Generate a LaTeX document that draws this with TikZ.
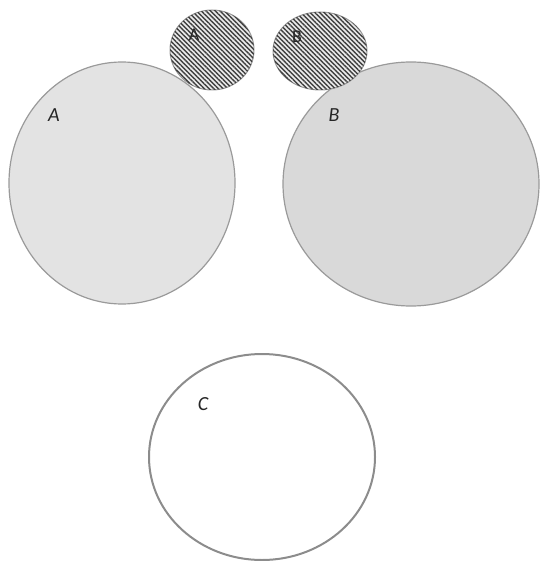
\documentclass[tikz,border=0pt]{standalone}
\usepackage{fontspec}
\setmainfont{Carlito}
\usepackage{xcolor}
\usepackage{tikz}
\usetikzlibrary{shapes.geometric, patterns.meta, positioning}

\definecolor{rimgray}{HTML}{9A9A9A}
\definecolor{stripegray}{HTML}{404040}

\tikzset{
    bigset/.style={ellipse, draw=rimgray, line width=1.2pt, inner sep=0pt},
    smallset/.style={ellipse, draw=rimgray, line width=1pt, inner sep=0pt, fill=gray!15,
        postaction={pattern={Lines[angle=-45, distance=3.3pt, line width=1.4pt]}, pattern color=stripegray}},
    setlabel/.style={font=\fontsize{20}{24}\selectfont\itshape, text=black!85},
    toplabel/.style={font=\fontsize{18}{22}\selectfont, text=black!85}
}

\begin{document}
\begin{tikzpicture}[x=1pt, y=-1pt]
        \useasboundingbox (0,0) rectangle (540,561);

        % large sets
        \node[bigset, fill=gray!22, minimum width=226pt, minimum height=242pt] (A) at (122,183) {};
        \node[bigset, fill=gray!30, minimum width=256pt, minimum height=244pt] (B) at (411,184) {};

        % small striped copies on top
        \node[smallset, minimum width=84pt, minimum height=80pt] (a) at (212,50) {};
        \node[smallset, minimum width=94pt, minimum height=78pt] (b) at (320,51) {};

        % the empty set C
        \node[bigset, draw=gray!90, line width=2pt, minimum width=226pt, minimum height=206pt] (C) at (262,457) {};

        \node[setlabel] (labA) at (54,115) {A};
        \node[setlabel] (labB) at (334,115) {B};
        \node[setlabel] (labC) at (203,404) {C};
        \node[toplabel] (laba) at (194,35) {A};
        \node[toplabel] (labb) at (297,37) {B};

    \end{tikzpicture}
\end{document}
